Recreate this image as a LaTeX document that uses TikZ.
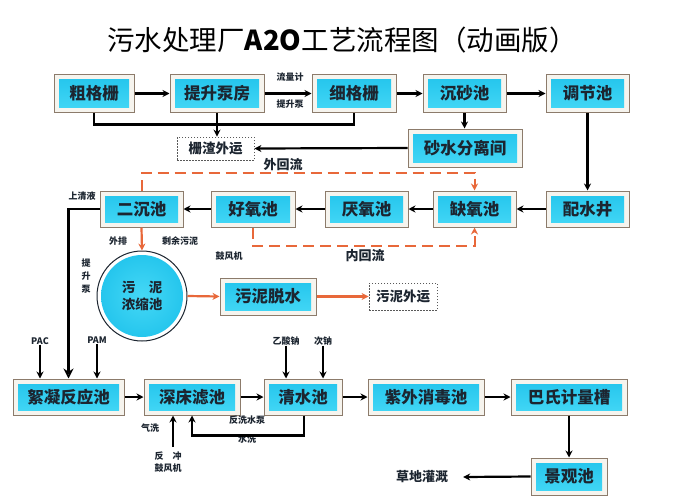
\documentclass[tikz,border=0pt]{standalone}
\usepackage{fontspec}
\setmainfont{Noto Sans CJK SC}
\usetikzlibrary{arrows.meta,calc}
\definecolor{boxbg}{HTML}{F6F4EE}
\definecolor{boxedge}{HTML}{8C7B6B}
\definecolor{cyA}{HTML}{22C4EC}
\definecolor{cyB}{HTML}{45D8F6}
\definecolor{txt}{HTML}{1C2530}
\definecolor{orng}{HTML}{E8683A}
\tikzset{
  pbox/.style={draw=boxedge, line width=1pt, fill=boxbg, minimum height=37pt, inner sep=0pt,
    font=\bfseries\fontsize{16.5}{18}\selectfont, text=txt,
    path picture={\shade[top color=cyA, bottom color=cyB]
      ([shift={(5pt,-5pt)}]path picture bounding box.north west) rectangle
      ([shift={(-5pt,5pt)}]path picture bounding box.south east);}},
  dbox/.style={draw=gray!70!black, dash pattern=on 1.5pt off 1.5pt, fill=white, line width=0.8pt,
    inner sep=0pt, font=\bfseries\fontsize{13.5}{15}\selectfont, text=txt},
  lab/.style={font=\bfseries\fontsize{9}{10}\selectfont, text=txt, inner sep=0pt},
  blab/.style={font=\bfseries\fontsize{13}{14}\selectfont, text=txt, inner sep=0pt},
  flow/.style={line width=2.2pt, draw=black, -{Stealth[length=7pt,width=7pt]}},
  pipe/.style={line width=2.2pt, draw=black},
  oflow/.style={line width=2.2pt, draw=orng, -{Stealth[length=7pt,width=7pt]}},
  odash/.style={line width=2pt, draw=orng, dash pattern=on 11pt off 6pt, -{Stealth[length=7pt,width=7pt]}},
}
\begin{document}
\begin{tikzpicture}[x=1pt,y=-1pt]
\useasboundingbox[fill=white] (0,0) rectangle (692,500);
\node[font=\fontsize{27.5}{29}\selectfont, text=black] (title) at (342,40) {污水处理厂{\bfseries A2O}工艺流程图（动画版）};
% row 1
\node[pbox, minimum width=80pt] (cgs) at (94,93.5) {粗格栅};
\node[pbox, minimum width=94pt] (tsbf) at (217,93.5) {提升泵房};
\node[pbox, minimum width=84pt] (xgs) at (354,93.5) {细格栅};
\node[pbox, minimum width=83pt] (csc) at (464.5,93.5) {沉砂池};
\node[pbox, minimum width=83pt] (tjc) at (587.5,93.5) {调节池};
\node[pbox, minimum width=114pt, minimum height=38pt] (szj) at (465,148) {砂水分离间};
\node[dbox, minimum width=77pt, minimum height=23pt] (zzwy) at (215.5,148.5) {栅渣外运};
% row 2
\node[pbox, minimum width=83pt, minimum height=36pt] (ecc) at (141.5,209) {二沉池};
\node[pbox, minimum width=84pt, minimum height=36pt] (hyc) at (253,209) {好氧池};
\node[pbox, minimum width=83pt, minimum height=36pt] (yyc) at (366.5,209) {厌氧池};
\node[pbox, minimum width=83pt, minimum height=36pt] (qyc) at (474.5,209) {缺氧池};
\node[pbox, minimum width=83pt, minimum height=36pt] (psj) at (587.5,209) {配水井};
\node[circle, draw=txt, line width=1pt, fill=white, minimum size=90pt, inner sep=0pt, align=center,
  font=\bfseries\fontsize{13.5}{17}\selectfont, text=txt,
  path picture={\shade[inner color=cyB, outer color=cyA] (path picture bounding box.center) circle (41pt);}]
  (wnns) at (142,296) {污\quad 泥\\浓缩池};
\node[pbox, minimum width=96pt] (wnts) at (268,296.5) {污泥脱水};
\node[dbox, minimum width=68pt, minimum height=27pt] (wnwy) at (403,296.5) {污泥外运};
% row 3
\node[pbox, minimum width=111pt, minimum height=36pt] (xnfy) at (68.5,397) {絮凝反应池};
\node[pbox, minimum width=96pt, minimum height=36pt] (scl) at (192,397) {深床滤池};
\node[pbox, minimum width=78pt, minimum height=36pt] (qsc) at (303,397) {清水池};
\node[pbox, minimum width=116pt, minimum height=36pt] (zwxd) at (426,397) {紫外消毒池};
\node[pbox, minimum width=116pt, minimum height=36pt] (bsjl) at (569,397) {巴氏计量槽};
\node[pbox, minimum width=76pt, minimum height=37pt] (jgc) at (569,476.5) {景观池};
% labels
\node[lab] (llj) at (290,77) {流量计};
\node[lab] (tsb) at (290,104) {提升泵};
\node[blab] (whl) at (283,165) {外回流};
\node[blab] (nhl) at (365,256) {内回流};
\node[lab] (sqy) at (82,196) {上清液};
\node[lab, align=center, font=\bfseries\fontsize{9}{13}\selectfont] (tsb2) at (86,276) {提\\升\\泵};
\node[lab] (wp) at (118,241) {外排};
\node[lab] (sywn) at (180,241) {剩余污泥};
\node[lab] (gfj) at (229,256) {鼓风机};
\node[lab] (pac) at (40,341) {PAC};
\node[lab] (pam) at (97,340) {PAM};
\node[lab] (ysn) at (286,341) {乙酸钠};
\node[lab] (cn) at (323,341) {次钠};
\node[lab] (qx) at (150,428) {气洗};
\node[lab, align=center, font=\bfseries\fontsize{9}{11.5}\selectfont] (fcgf) at (168,462) {反\quad 冲\\鼓风机};
\node[lab] (fxsb) at (247,420) {反洗水泵};
\node[lab] (sx) at (247,439) {水洗};
\node[blab] (cdgg) at (422,477) {草地灌溉};
\coordinate (fcb) at (173,447);
% row 1 connectors
\draw[flow] (cgs) -- (tsbf);
\draw[flow] (tsbf) -- (xgs);
\draw[flow] (xgs) -- (csc);
\draw[flow] (csc) -- (tjc);
\draw[pipe] (cgs.south) -- ++(0,12) -| (xgs.south);
\draw[flow] (tsbf.south) -- (tsbf.south |- zzwy.north);
\draw[flow] (csc.south) -- (csc.south |- szj.north);
\draw[flow] (szj.west) -- (zzwy.east);
\draw[flow] (tjc.south) -- (psj.north);
% row 2
\draw[flow] (psj) -- (qyc);
\draw[flow] (qyc) -- (yyc);
\draw[flow] (yyc) -- (hyc);
\draw[flow] (hyc) -- (ecc);
\draw[odash] (ecc.north) -- ++(0,-18) -| (qyc.north);
\draw[odash] (hyc.south) -- ++(0,18) -| (qyc.south);
\draw[line width=2.4pt, -{Stealth[length=10pt,width=10pt,open]}] (ecc.west) -| (xnfy.north);
\draw[oflow] (ecc.south) -- (wnns.north);
\draw[oflow] (wnns.east) -- (wnts.west);
\draw[oflow] (wnts.east) -- (wnwy.west);
% row 3
\draw[flow] (pac.south) -- (pac.south |- xnfy.north);
\draw[flow] (pam.south) -- (pam.south |- xnfy.north);
\draw[flow] (ysn.south) -- (ysn.south |- qsc.north);
\draw[flow] (cn.south) -- (cn.south |- qsc.north);
\draw[flow] (xnfy) -- (scl);
\draw[flow] (scl) -- (qsc);
\draw[flow] (qsc) -- (zwxd);
\draw[flow] (zwxd) -- (bsjl);
\draw[flow] ([xshift=1pt]qsc.south) -- ++(0,20) -| (scl.south);
\draw[flow] (fcb) -- (fcb |- scl.south);
\draw[flow] (bsjl.south) -- (jgc.north);
\draw[flow] (jgc.west) -- ([xshift=15pt]cdgg.east);
\end{tikzpicture}
\end{document}
